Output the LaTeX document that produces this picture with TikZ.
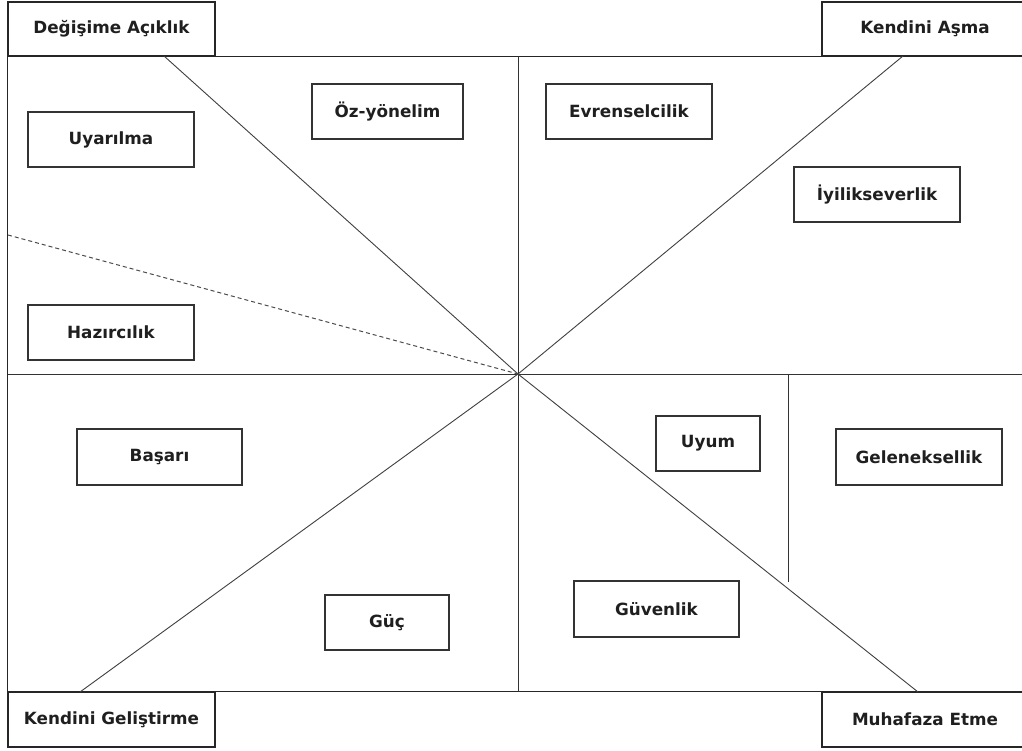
\documentclass[tikz,border=0pt]{standalone}
\usepackage{fontspec}
\setmainfont{DejaVu Sans}
\begin{document}
\begin{tikzpicture}[x=1pt,y=-1pt,
  lbl/.style={font=\fontsize{16.8}{20}\selectfont\bfseries, text=black!88},
  vbox/.style={lbl, draw=black!80, line width=1.1pt, rectangle, inner sep=0pt, minimum height=55pt},
  frame/.style={draw=black!85, line width=1.2pt},
  axis/.style={draw=black!80, line width=1pt},
  diag/.style={draw=black!75, line width=0.9pt},
  dashline/.style={draw=black!70, line width=1pt, dash pattern=on 4pt off 3pt}]
\useasboundingbox (0,0) rectangle (1022,751);
\fill[white] (0,0) rectangle (1022,751);

% corner boxes
\node[frame, lbl, rectangle, inner sep=0pt, minimum width=207pt, minimum height=54pt] (doa) at (111.5,29) {Değişime Açıklık};
\node[frame, lbl, rectangle, inner sep=0pt, minimum width=206pt, minimum height=54pt] (ka) at (925,29) {Kendini Aşma};
\node[frame, lbl, rectangle, inner sep=0pt, minimum width=207pt, minimum height=55pt] (kg) at (111.5,719.5) {Kendini Geliştirme};
\node[frame, lbl, rectangle, inner sep=0pt, minimum width=206pt, minimum height=55pt] (me) at (925,719.5) {Muhafaza Etme};

% main frame
\draw[frame] (doa.south east) -- (ka.south west);
\draw[frame] (ka.south east) -- ++(10,0);
\draw[frame] (kg.north east) -- (me.north west);
\draw[frame] (me.north east) -- ++(10,0);
\draw[frame] (doa.south west) -- (kg.north west);

% axes
\coordinate (c) at (518,374);
\coordinate (vt) at (518,56);
\coordinate (vb) at (518,692);
\coordinate (hl) at (8,374);
\coordinate (hr) at (1030,374);
\draw[axis] (vt) -- (vb);
\draw[axis] (hl) -- (hr);

% diagonals
\coordinate (d1a) at (164,56);
\coordinate (d1b) at (918,692);
\coordinate (d2a) at (903,56);
\coordinate (d2b) at (80,692);
\coordinate (dsh) at (8,235);
\draw[diag] (d1a) -- (c) -- (d1b);
\draw[diag] (d2a) -- (c) -- (d2b);
\draw[dashline] (dsh) -- (c);

% right vertical divider
\coordinate (rv1) at (788,374);
\coordinate (rv2) at (788,582);
\draw[axis] (rv1) -- (rv2);

% value boxes
\node[vbox, minimum width=166pt] (uyar) at (111,139.5) {Uyarılma};
\node[vbox, minimum width=166pt] (hazir) at (111,332.5) {Hazırcılık};
\node[vbox, minimum width=151pt] (oz) at (387.5,111.5) {Öz-yönelim};
\node[vbox, minimum width=166pt] (evren) at (629,111.5) {Evrenselcilik};
\node[vbox, minimum width=166pt] (iyi) at (877,194.5) {İyilikseverlik};
\node[vbox, minimum width=165pt, minimum height=56pt] (basari) at (159.5,457) {Başarı};
\node[vbox, minimum width=124pt] (guc) at (387,622.5) {Güç};
\node[vbox, minimum width=104pt] (uyum) at (708,443.5) {Uyum};
\node[vbox, minimum width=166pt, minimum height=56pt] (gelenek) at (919,457) {Geleneksellik};
\node[vbox, minimum width=165pt, minimum height=56pt] (guven) at (656.5,609) {Güvenlik};
\end{tikzpicture}
\end{document}
